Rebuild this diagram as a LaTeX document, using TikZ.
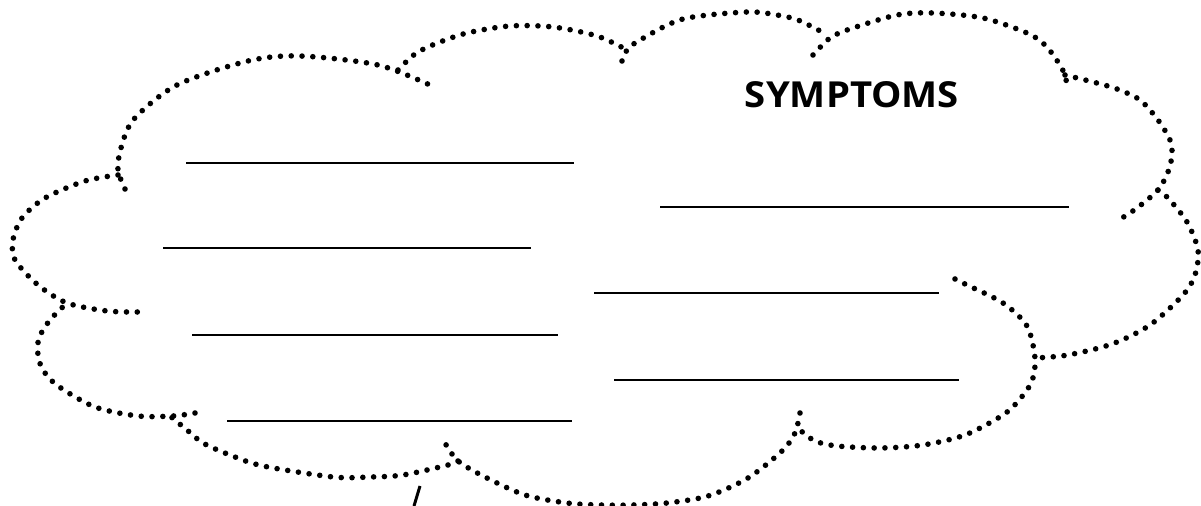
\documentclass[tikz,border=0pt]{standalone}
\usepackage{fontspec}
\setsansfont{Open Sans}
\begin{document}
\begin{tikzpicture}[x=0.5pt,y=-0.5pt,
  cloud/.style={line width=2.8pt, line cap=round, dash pattern=on 0pt off 5.4pt},
  blank/.style={line width=1.1pt},
  title/.style={font=\sffamily\bfseries, inner sep=0pt, anchor=base}]
\useasboundingbox (0,0) rectangle (1201,506);
% cloud lobes
\draw[cloud] plot[smooth] coordinates {(125,189) (118,170) (121,148) (134,119) (177,85) (248,61) (300,56) (378,65) (432,86)};
\draw[cloud] plot[smooth] coordinates {(398,70) (415,54) (435,44) (467,33) (510,26) (553,27) (597,36) (627,50)};
\draw[cloud] plot[smooth] coordinates {(622,61) (627,50) (640,40) (683,19) (747,12) (777,15) (798,20) (822,32)};
\draw[cloud] plot[smooth] coordinates {(813,55) (830,38) (850,29) (897,15) (933,13) (983,18) (1027,33) (1045,45) (1058,62) (1065,75) (1067,87)};
\draw[cloud] plot[smooth] coordinates {(1065,75) (1093,82) (1117,89) (1140,100) (1158,120) (1170,140) (1172,155) (1168,172) (1158,190) (1137,208) (1122,218)};
\draw[cloud] plot[smooth] coordinates {(1158,190) (1168,198) (1187,222) (1198,250) (1195,275) (1183,295) (1150,325) (1112,344) (1068,355) (1035,358)};
\draw[cloud] plot[smooth] coordinates {(955,279) (967,285) (1003,303) (1027,326) (1035,358) (1032,381) (1020,399) (1003,415) (965,435) (923,445) (880,448) (837,446) (815,441) (800,430)};
\draw[cloud] plot[smooth] coordinates {(800,413) (795,433) (782,451) (748,478) (708,496) (667,503) (633,505) (600,505) (567,503) (525,495) (485,477) (458,461) (445,443)};
\draw[cloud] plot[smooth] coordinates {(458,461) (448,465) (403,475) (370,477) (333,477) (263,466) (230,455) (203,443) (187,430) (170,416)};
\draw[cloud] plot[smooth] coordinates {(195,413) (173,416) (138,416) (95,407) (58,386) (43,370) (38,355) (39,338) (50,320) (67,303)};
\draw[cloud] plot[smooth] coordinates {(118,175) (85,181) (45,198) (22,218) (13,240) (15,260) (38,285) (67,303) (107,311) (138,312)};
% title
\node[title] (symptoms) at (852,108) {\resizebox{107pt}{13pt}{SYMPTOMS}};
% answer lines
\draw[blank] (186,163) -- (574,163);
\draw[blank] (163,248) -- (531,248);
\draw[blank] (660,207) -- (1069,207);
\draw[blank] (594,293) -- (939,293);
\draw[blank] (192,335) -- (558,335);
\draw[blank] (614,380) -- (959,380);
\draw[blank] (227,421) -- (572,421);
% stroke at bottom edge
\coordinate (tailtop) at (420,486);
\coordinate (tailbot) at (414,506);
\draw[line width=1.5pt] (tailtop) -- (tailbot);
\end{tikzpicture}
\end{document}
